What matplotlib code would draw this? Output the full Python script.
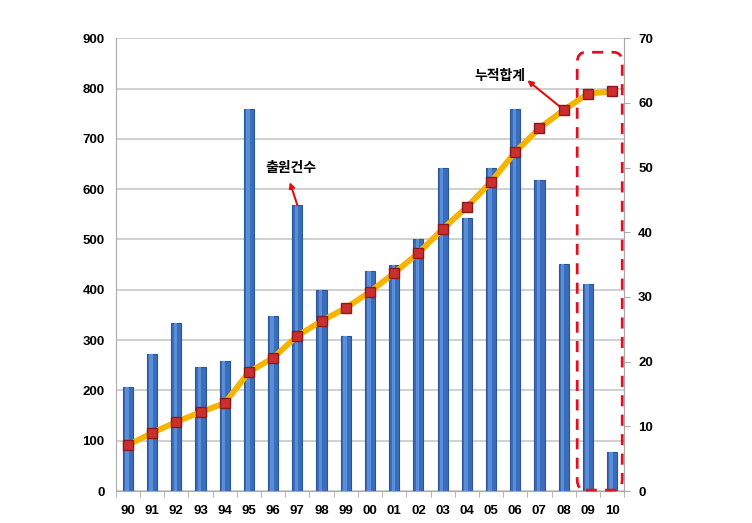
import numpy as np
import matplotlib.pyplot as plt
from matplotlib.patches import FancyBboxPatch

plt.rcParams["font.family"] = ["Liberation Sans", "Noto Sans CJK KR", "DejaVu Sans"]

years = ["90", "91", "92", "93", "94", "95", "96", "97", "98", "99", "00",
         "01", "02", "03", "04", "05", "06", "07", "08", "09", "10"]
filings = [206, 272, 335, 246, 258, 760, 348, 568, 400, 308, 437,
           450, 500, 643, 542, 643, 760, 618, 451, 411, 77]
cumulative = [7.1, 9.0, 10.7, 12.2, 13.6, 18.4, 20.6, 24.0, 26.3, 28.3, 30.8,
              33.7, 36.8, 40.5, 43.9, 47.8, 52.4, 56.1, 58.9, 61.4, 61.8]


def main():
    fig = plt.figure(figsize=(7.52, 5.23), dpi=100)
    ax = fig.add_axes([0.154, 0.061, 0.676, 0.866])
    x = np.arange(len(years))

    ax.set_axisbelow(True)
    ax.yaxis.grid(True, color="#c8c8c8", linewidth=1.2)
    ax.bar(x, filings, width=0.42, color="#3a6dbd", edgecolor="#2a5596",
           linewidth=0.8, zorder=2)
    # lighter strip to hint at the cylinder shading
    ax.bar(x - 0.04, filings, width=0.14, color="#5a8fd8", linewidth=0,
           zorder=2)
    ax.set_xlim(-0.5, len(years) - 0.5)
    ax.set_ylim(0, 900)
    ax.set_yticks(range(0, 901, 100))
    ax.set_xticks(x)
    ax.set_xticklabels(years)
    ax.set_xticks(np.arange(-0.5, len(years), 1), minor=True)
    ax.tick_params(axis="x", which="major", length=0, pad=10)
    ax.tick_params(axis="x", which="minor", length=4, color="#aaaaaa")
    ax.tick_params(axis="y", length=0, pad=8)
    for lab in ax.get_xticklabels() + ax.get_yticklabels():
        lab.set_fontweight("bold")
        lab.set_fontsize(9.5)
    ax.spines["top"].set_visible(False)
    for side in ["left", "right", "bottom"]:
        ax.spines[side].set_color("#aaaaaa")

    ax2 = ax.twinx()
    ax2.plot(x, cumulative, color="#f5b400", linewidth=4.2, zorder=3,
             solid_capstyle="round")
    ax2.plot(x, cumulative, linestyle="none", marker="s", markersize=6.5,
             markerfacecolor="#cc2e2e", markeredgecolor="#8a1a1a", zorder=4)
    ax2.set_ylim(0, 70)
    ax2.set_yticks(range(0, 71, 10))
    ax2.tick_params(axis="y", length=4, color="#aaaaaa", pad=6)
    for lab in ax2.get_yticklabels():
        lab.set_fontweight("bold")
        lab.set_fontsize(9.5)
    for side in ["top", "left", "bottom"]:
        ax2.spines[side].set_visible(False)
    ax2.spines["right"].set_color("#aaaaaa")

    ax.text(6.72, 643, "출원건수", fontsize=10, fontweight="bold",
            ha="center", va="center")
    ax.annotate("", xy=(6.69, 614), xytext=(7.0, 568),
                arrowprops=dict(arrowstyle="-|>", color="#dd1111", lw=1.5,
                                mutation_scale=8, shrinkA=0, shrinkB=0))
    ax2.text(15.37, 64.1, "누적합계", fontsize=10, fontweight="bold",
             ha="center", va="center")
    ax2.annotate("", xy=(16.5, 63.5), xytext=(17.85, 59.4),
                 arrowprops=dict(arrowstyle="-|>", color="#dd1111", lw=1.5,
                                 mutation_scale=8, shrinkA=0, shrinkB=0))

    box = FancyBboxPatch((18.56, 2), 1.86, 870,
                         boxstyle="round,pad=0,rounding_size=0.35",
                         mutation_aspect=60, fill=False, edgecolor="#dd1122",
                         linewidth=2, linestyle=(0, (4, 3)), clip_on=False,
                         zorder=5)
    ax.add_patch(box)

    fig.savefig("out.png", dpi=100)


if __name__ == "__main__":
    main()
